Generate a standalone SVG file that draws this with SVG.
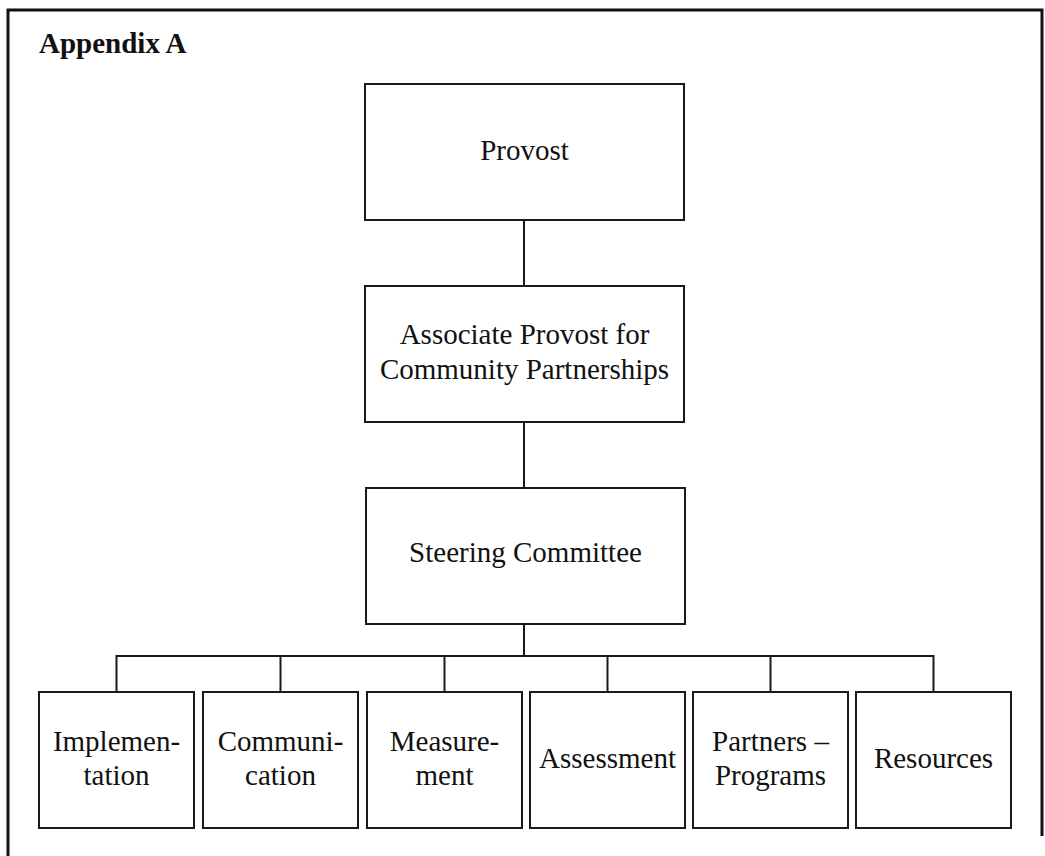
<svg xmlns="http://www.w3.org/2000/svg" width="1045" height="856" viewBox="0 0 1045 856">
  <style>
    .frame { fill: none; stroke: #111; stroke-width: 3; }
    .box { fill: #fff; stroke: #1a1a1a; stroke-width: 2; }
    .link { fill: none; stroke: #1a1a1a; stroke-width: 2; }
    .label { font-family: "Liberation Serif", "Times New Roman", serif; font-size: 29px; fill: #111; text-anchor: middle; }
    .title { font-family: "Liberation Serif", "Times New Roman", serif; font-size: 29px; font-weight: bold; fill: #111; }
  </style>
  <rect width="1045" height="856" fill="#fff"/>

  <!-- page frame -->
  <path class="frame" d="M8,856 V10 H1042 V836"/>
  <text class="title" x="39" y="53">Appendix A</text>

  <!-- connectors -->
  <g id="connectors">
    <path class="link" d="M524,220 V286"/>
    <path class="link" d="M524,422 V488"/>
    <path class="link" d="M524,624 V656"/>
    <path class="link" d="M116.5,692 V656 H933.5 V692"/>
    <path class="link" d="M280.5,656 V692"/>
    <path class="link" d="M444.5,656 V692"/>
    <path class="link" d="M607.5,656 V692"/>
    <path class="link" d="M770.5,656 V692"/>
  </g>

  <g id="provost">
    <rect class="box" x="365" y="84" width="319" height="136"/>
    <text class="label" x="524.5" y="160">Provost</text>
  </g>

  <g id="associate-provost">
    <rect class="box" x="365" y="286" width="319" height="136"/>
    <text class="label" x="524.5" y="344">Associate Provost for</text>
    <text class="label" x="524.5" y="379">Community Partnerships</text>
  </g>

  <g id="steering-committee">
    <rect class="box" x="366" y="488" width="319" height="136"/>
    <text class="label" x="525.5" y="562">Steering Committee</text>
  </g>

  <g id="implementation">
    <rect class="box" x="39" y="692" width="155" height="136"/>
    <text class="label" x="116.5" y="751">Implemen-</text>
    <text class="label" x="116.5" y="785">tation</text>
  </g>

  <g id="communication">
    <rect class="box" x="203" y="692" width="155" height="136"/>
    <text class="label" x="280.5" y="751">Communi-</text>
    <text class="label" x="280.5" y="785">cation</text>
  </g>

  <g id="measurement">
    <rect class="box" x="367" y="692" width="155" height="136"/>
    <text class="label" x="444.5" y="751">Measure-</text>
    <text class="label" x="444.5" y="785">ment</text>
  </g>

  <g id="assessment">
    <rect class="box" x="530" y="692" width="155" height="136"/>
    <text class="label" x="607.5" y="768">Assessment</text>
  </g>

  <g id="partners-programs">
    <rect class="box" x="693" y="692" width="155" height="136"/>
    <text class="label" x="770.5" y="751">Partners –</text>
    <text class="label" x="770.5" y="785">Programs</text>
  </g>

  <g id="resources">
    <rect class="box" x="856" y="692" width="155" height="136"/>
    <text class="label" x="933.5" y="768">Resources</text>
  </g>
</svg>
